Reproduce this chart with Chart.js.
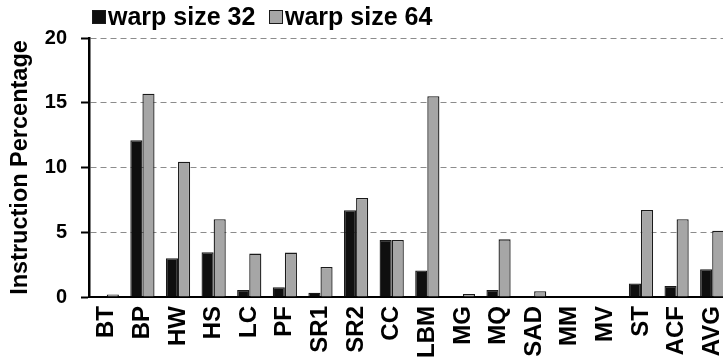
<!DOCTYPE html>
<html>
<head>
<meta charset="utf-8">
<script src="https://cdn.jsdelivr.net/npm/chart.js@4/dist/chart.umd.min.js"></script>
<style>
  html, body { margin: 0; padding: 0; background: #fff; overflow: hidden; }
  #wrap { position: relative; width: 750px; height: 364px; }
  #chart { position: absolute; left: 0; top: 0; }
  .lg-box { position: absolute; top: 10px; width: 12px; height: 12px; border: 1px solid #1a1a1a; }
  .lg-text { position: absolute; top: 2px; line-height: 25px; font: bold 25px "Liberation Sans", Arial, sans-serif; color: #000; white-space: nowrap; }
</style>
</head>
<body>
<div id="wrap">
  <canvas id="chart" width="750" height="364"></canvas>
</div>
<script>
// Benchmarks along the x axis
const categories = ["BT", "BP", "HW", "HS", "LC", "PF", "SR1", "SR2", "CC", "LBM",
                    "MG", "MQ", "SAD", "MM", "MV", "ST", "ACF", "AVG"];

// Instruction percentage per benchmark
const warp32 = [0, 12.1, 3.0, 3.45, 0.55, 0.75, 0.33, 6.7, 4.4, 2.05,
                0, 0.55, 0, 0, 0, 1.05, 0.85, 2.15];
const warp64 = [0.2, 15.7, 10.45, 6.0, 3.35, 3.43, 2.32, 7.65, 4.4, 15.5,
                0.23, 4.45, 0.45, 0, 0, 6.72, 6.0, 5.12];

const seriesNames = ["warp size 32", "warp size 64"];
const yTicks = [0, 5, 10, 15, 20];

const fills = ["#0f0f0f", "#a6a6a6"];
const edge = "#1a1a1a";

// Legend row above the plot
const legendPos = [{ box: 92, text: 108 }, { box: 269, text: 285 }];
const wrap = document.getElementById("wrap");
seriesNames.forEach((name, i) => {
  const b = document.createElement("div");
  b.className = "lg-box";
  b.style.left = legendPos[i].box + "px";
  b.style.background = fills[i];
  wrap.appendChild(b);
  const t = document.createElement("div");
  t.className = "lg-text";
  t.style.left = legendPos[i].text + "px";
  t.textContent = name;
  wrap.appendChild(t);
});

const fontFamily = '"Liberation Sans", Arial, sans-serif';

new Chart(document.getElementById("chart"), {
  type: "bar",
  data: {
    labels: categories,
    datasets: [
      { label: seriesNames[0], data: warp32, backgroundColor: fills[0], borderColor: edge, borderWidth: 1.3 },
      { label: seriesNames[1], data: warp64, backgroundColor: fills[1], borderColor: edge, borderWidth: 1.3 }
    ]
  },
  options: {
    responsive: false,
    animation: false,
    devicePixelRatio: 1,
    layout: { padding: { top: 38, right: 0, left: 0, bottom: 0 } },
    datasets: { bar: { categoryPercentage: 0.68, barPercentage: 1.0, borderSkipped: "start" } },
    plugins: {
      legend: { display: false },
      tooltip: { enabled: false }
    },
    scales: {
      x: {
        offset: true,
        grid: { display: false, drawTicks: false },
        border: { display: true, color: "#000", width: 2 },
        ticks: {
          autoSkip: false,
          minRotation: 90,
          maxRotation: 90,
          padding: 9,
          color: "#000",
          font: { family: fontFamily, size: 24, weight: "bold" }
        },
        afterFit: (s) => { s.height = 67; }
      },
      y: {
        min: 0,
        max: 20,
        afterBuildTicks: (s) => { s.ticks = yTicks.map(v => ({ value: v })); },
        grid: {
          color: (c) => c.tick && c.tick.value === 0 ? "rgba(0,0,0,0)" : "#8c8c8c",
          lineWidth: 1,
          drawTicks: true,
          tickLength: 8,
          tickColor: "#000",
          tickWidth: 2
        },
        border: { display: true, color: "#000", width: 2.5, dash: [6, 4] },
        ticks: {
          padding: 14,
          color: "#000",
          font: { family: fontFamily, size: 20, weight: "bold" }
        },
        title: {
          display: true,
          text: "Instruction Percentage",
          color: "#000",
          padding: { top: 6, bottom: 0 },
          font: { family: fontFamily, size: 23.5, weight: "bold" }
        },
        afterFit: (s) => { s.width = 89; }
      }
    }
  }
});
</script>
</body>
</html>
